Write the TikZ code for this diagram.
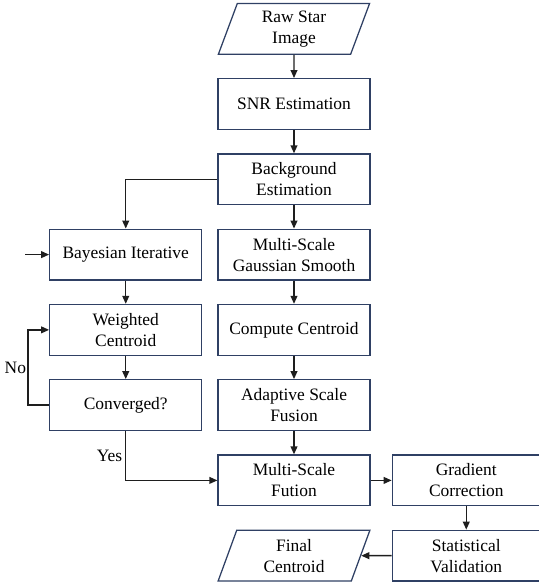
\documentclass[tikz,border=0pt]{standalone}
\usepackage{fontspec}
\setmainfont{Liberation Serif}
\usepackage{xcolor}
\usepackage{tikz}
\usetikzlibrary{shapes,shapes.geometric,arrows.meta,positioning,calc}
\definecolor{boxline}{RGB}{47,64,100}
\definecolor{flowline}{RGB}{30,30,30}

\begin{document}
\begin{tikzpicture}[
    node distance=0.58cm and 0.375cm,
    font=\fontsize{12.4pt}{15pt}\selectfont,
    stepbox/.style={rectangle, draw=boxline, line width=0.9pt, align=center, minimum height=1.27cm, minimum width=3.8cm, inner sep=2pt},
    sidebox/.style={stepbox, minimum width=3.7cm},
    iobox/.style={trapezium, trapezium left angle=74, trapezium right angle=106, trapezium stretches=true, draw=boxline, line width=0.9pt, align=center, minimum height=1.27cm, minimum width=3.8cm, inner sep=1pt},
    arrow/.style={-{Triangle[length=2mm, width=1.7mm]}, line width=1pt, draw=flowline}
]
    \useasboundingbox (0,0) rectangle (13.475,-14.625);

    \node [iobox] (raw) at (7.35,-0.72) {Raw Star\\Image};
    \node [stepbox, below=of raw] (snr) {SNR Estimation};
    \node [stepbox, below=of snr] (bg) {Background\\Estimation};
    \node [stepbox, below=of bg] (gauss) {Multi-Scale\\Gaussian Smooth};
    \node [stepbox, below=of gauss] (cmp) {Compute Centroid};
    \node [stepbox, below=of cmp] (adapt) {Adaptive Scale\\Fusion};
    \node [stepbox, below=of adapt] (fusion) {Multi-Scale\\Fution};
    \node [iobox, below=of fusion] (final) {Final\\Centroid};

    \node [stepbox, left=of gauss] (bayes) {Bayesian Iterative};
    \node [stepbox, left=of cmp] (wcent) {Weighted\\Centroid};
    \node [stepbox, left=of adapt] (conv) {Converged?};

    \node [sidebox, right=0.525cm of fusion] (grad) {Gradient\\Correction};
    \node [sidebox, below=of grad] (stat) {Statistical\\Validation};

    \coordinate [left=0.6cm of bayes.west] (entry);

    \draw [arrow] (raw) -- (snr);
    \draw [arrow] (snr) -- (bg);
    \draw [arrow] (bg) -- (gauss);
    \draw [arrow] (bg) -| (bayes);
    \draw [arrow] (entry) -- (bayes);
    \draw [arrow] (gauss) -- (cmp);
    \draw [arrow] (cmp) -- (adapt);
    \draw [arrow] (adapt) -- (fusion);
    \draw [arrow] (bayes) -- (wcent);
    \draw [arrow] (wcent) -- (conv);
    \draw [arrow] (conv.west) -- ++(-0.525,0) |- node [pos=0.25, left, inner sep=1pt] {No} (wcent.west);
    \draw [arrow] (conv) |- node [pos=0.25, left, inner sep=2pt] {Yes} (fusion);
    \draw [arrow] (fusion) -- (grad);
    \draw [arrow] (grad) -- (stat);
    \draw [arrow] (stat) -- (final);
\end{tikzpicture}
\end{document}
